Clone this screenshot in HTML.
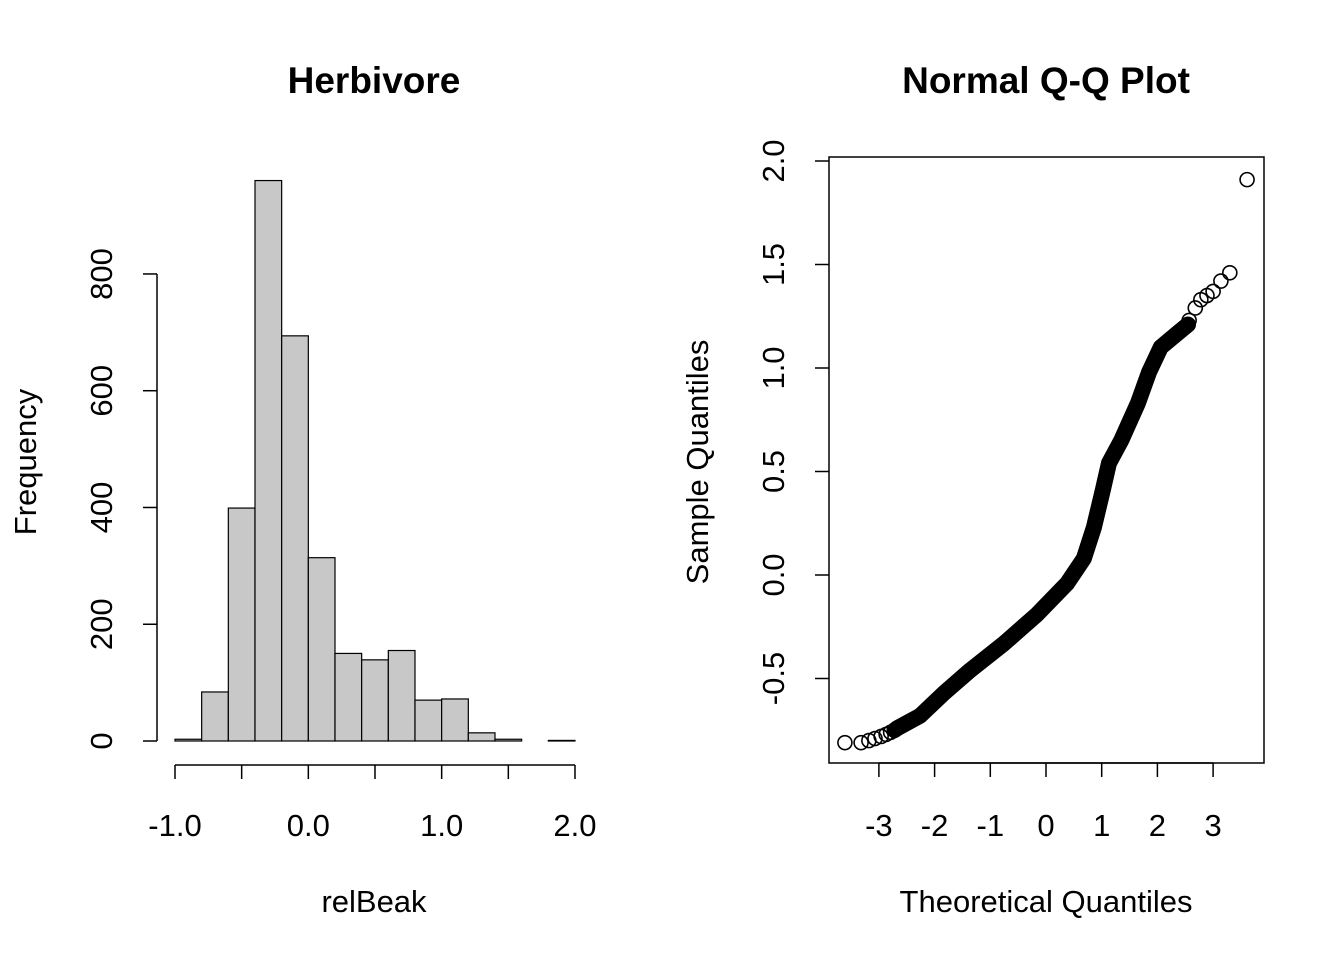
<!DOCTYPE html>
<html><head><meta charset="utf-8"><style>
html,body{margin:0;padding:0;background:#fff;}
svg{display:block;font-family:"Liberation Sans",Arial,sans-serif;}
</style></head><body>
<svg id="chart" width="1344" height="960" viewBox="0 0 1344 960">
<text x="374" y="93" font-size="37" font-weight="bold" text-anchor="middle">Herbivore</text>
<text x="1046" y="93" font-size="37" font-weight="bold" text-anchor="middle">Normal Q-Q Plot</text>
<text x="374" y="912" font-size="31" text-anchor="middle">relBeak</text>
<text transform="translate(36,462) rotate(-90)" font-size="31" text-anchor="middle">Frequency</text>
<text x="1046" y="912" font-size="31" text-anchor="middle">Theoretical Quantiles</text>
<text transform="translate(708,462) rotate(-90)" font-size="31" text-anchor="middle">Sample Quantiles</text>
<rect x="829" y="157" width="435" height="606" fill="none" stroke="#000" stroke-width="1.5"/>
<g id="hist"></g><g id="qq"></g>
</svg>
<script>
const binStarts = [-1.0,-0.8,-0.6,-0.4,-0.2,0.0,0.2,0.4,0.6,0.8,1.0,1.2,1.4,1.6,1.8];
const binCounts = [3,84,399,960,694,314,150,139,155,70,72,14,3,0,1];
const histXTicks = [-1.0,-0.5,0.0,0.5,1.0,1.5,2.0];
const histXLabels = ["-1.0","0.0","1.0","2.0"];
const histXLabelVals = [-1.0,0.0,1.0,2.0];
const histYTicks = [0,200,400,600,800];

const qqTheo = [-2.72,-2.67,-2.26,-1.83,-1.36,-0.75,-0.16,0.38,0.68,0.86,1.02,1.13,1.35,1.65,1.85,2.06,2.37,2.55];
const qqSample = [-0.75,-0.74,-0.68,-0.57,-0.46,-0.33,-0.19,-0.04,0.08,0.23,0.41,0.54,0.65,0.83,0.98,1.10,1.17,1.21];
const tailTheo = [-3.61,-3.32,-3.18,-3.07,-2.96,-2.87,-2.79,2.57,2.68,2.78,2.89,3.0,3.14,3.30,3.61];
const tailSample = [-0.81,-0.81,-0.80,-0.79,-0.78,-0.77,-0.76,1.23,1.29,1.33,1.35,1.37,1.42,1.46,1.91];
const qqXTicks = [-3,-2,-1,0,1,2,3];
const qqYTicks = [-0.5,0.0,0.5,1.0,1.5,2.0];

const NS="http://www.w3.org/2000/svg";
function mk(tag,attrs,parent){const e=document.createElementNS(NS,tag);for(const k in attrs)e.setAttribute(k,attrs[k]);parent.appendChild(e);return e;}
const hx=v=>175+(v+1)*133.33, hy=v=>741-v*0.5838;
const qx=v=>1046+v*55.7, qy=v=>575-v*207;
const H=document.getElementById('hist'), Q=document.getElementById('qq');

binStarts.forEach((b,i)=>{
  const r=mk('rect',{x:hx(b),y:hy(binCounts[i]),width:hx(b+0.2)-hx(b),height:hy(0)-hy(binCounts[i]),fill:'#c8c8c8',stroke:'#000','stroke-width':1.2},H);
  
  
});
let l=mk('line',{x1:hx(-1),x2:hx(2),y1:765,y2:765,stroke:'#000','stroke-width':1.5},H);


histXTicks.forEach(t=>{mk('line',{x1:hx(t),x2:hx(t),y1:765,y2:779,stroke:'#000','stroke-width':1.5},H);});
histXLabelVals.forEach((t,i)=>{
  const e=mk('text',{x:hx(t),y:836,'font-size':31,'text-anchor':'middle'},H);e.textContent=histXLabels[i];
  
  
});
l=mk('line',{x1:157,x2:157,y1:hy(0),y2:hy(800),stroke:'#000','stroke-width':1.5},H);


histYTicks.forEach(t=>{
  mk('line',{x1:143,x2:157,y1:hy(t),y2:hy(t),stroke:'#000','stroke-width':1.5},H);
  const e=mk('text',{transform:`translate(112,${hy(t)}) rotate(-90)`,'font-size':31,'text-anchor':'middle'},H);e.textContent=String(t);
  
  
});

qqXTicks.forEach(t=>{
  mk('line',{x1:qx(t),x2:qx(t),y1:763,y2:777,stroke:'#000','stroke-width':1.5},Q);
  const e=mk('text',{x:qx(t),y:836,'font-size':31,'text-anchor':'middle'},Q);e.textContent=String(t);
  
  
});
mk('line',{x1:qx(-3),x2:qx(3),y1:763,y2:763,stroke:'#000','stroke-width':1.5},Q);
qqYTicks.forEach(t=>{
  mk('line',{x1:815,x2:829,y1:qy(t),y2:qy(t),stroke:'#000','stroke-width':1.5},Q);
  const e=mk('text',{transform:`translate(784,${qy(t)}) rotate(-90)`,'font-size':31,'text-anchor':'middle'},Q);e.textContent=t.toFixed(1);
  
  
});
const pts=qqTheo.map((t,i)=>qx(t)+','+qy(qqSample[i])).join(' ');
const band=mk('polyline',{points:pts,fill:'none',stroke:'#000','stroke-width':16,'stroke-linejoin':'round','stroke-linecap':'round'},Q);


tailTheo.forEach((t,i)=>{
  const c=mk('circle',{cx:qx(t),cy:qy(tailSample[i]),r:7,fill:'none',stroke:'#000','stroke-width':1.6},Q);
  
  
});
</script>
</body></html>
